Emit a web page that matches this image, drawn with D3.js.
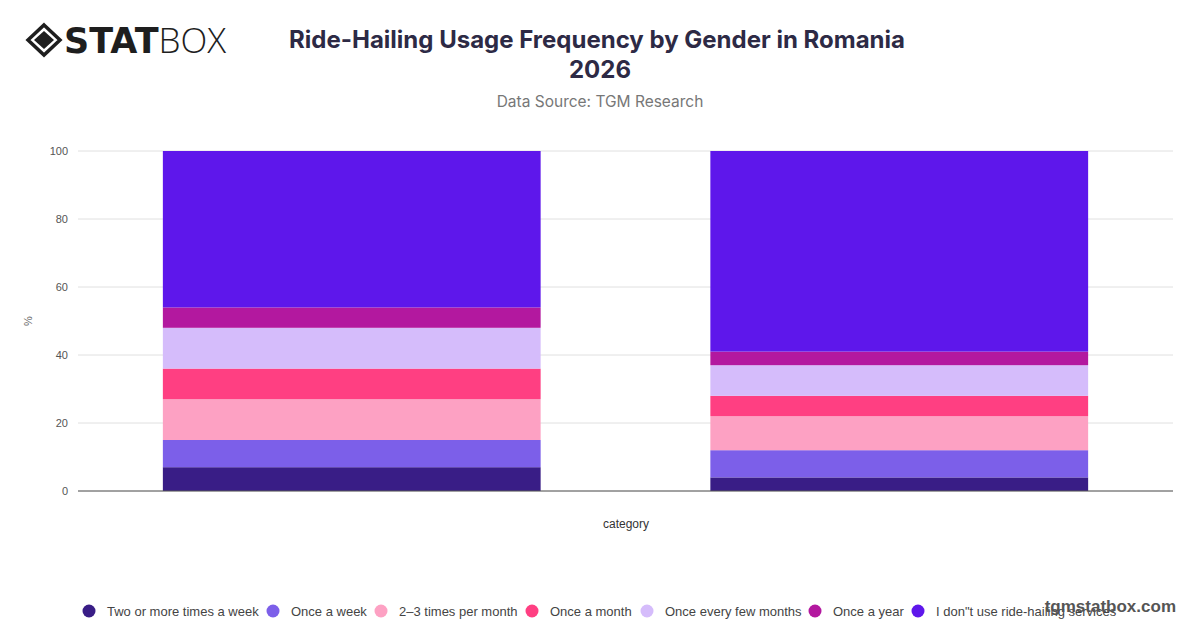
<!DOCTYPE html>
<html>
<head>
<meta charset="utf-8">
<script src="https://cdn.jsdelivr.net/npm/d3@7"></script>
<style>
  body { margin: 0; background: #fff; }
  svg { display: block; }
</style>
</head>
<body>
<svg width="1200" height="628"></svg>
<script>
// data
var categories = ["Male", "Female"];
var series = ["Two or more times a week", "Once a week", "2\u20133 times per month", "Once a month",
  "Once every few months", "Once a year", "I don\"t use ride-hailing services"];
var maleValues = [7, 8, 12, 9, 12, 6, 46];
var femaleValues = [4, 8, 10, 6, 9, 4, 59];
var colors = ["#391d86", "#7c5fe9", "#fda1c3", "#ff3f82", "#d5bcfb", "#b3189f", "#5e17eb"];
var yTicks = [0, 20, 40, 60, 80, 100];

var svg = d3.select("svg");
var width = 1200, height = 628;
var margin = {top: 151, right: 27, bottom: 137, left: 78};
var plotW = width - margin.left - margin.right,
    plotH = height - margin.top - margin.bottom;

var rows = categories.map(function(c, i) {
  var r = {category: c};
  var vals = i == 0 ? maleValues : femaleValues;
  series.forEach(function(s, j) { r[s] = vals[j]; });
  return r;
});
var stacked = d3.stack().keys(series)(rows);

var x = d3.scaleBand().domain(categories).range([margin.left, margin.left + plotW])
  .paddingInner(0.31).paddingOuter(0.155);
var y = d3.scaleLinear().domain([0, 100]).range([margin.top + plotH, margin.top]);
var color = d3.scaleOrdinal().domain(series).range(colors);

// gridlines
svg.append("g").selectAll("line").data(yTicks).enter().append("line")
  .attr("x1", margin.left).attr("x2", margin.left + plotW)
  .attr("y1", d => y(d)).attr("y2", d => y(d))
  .attr("stroke", "#e0e0e0").attr("stroke-width", 1);

// bars
svg.append("g").selectAll("g").data(stacked).enter().append("g")
  .attr("fill", d => color(d.key))
  .selectAll("rect").data(d => d).enter().append("rect")
  .attr("x", d => x(d.data.category))
  .attr("width", x.bandwidth())
  .attr("y", d => y(d[1]))
  .attr("height", d => y(d[0]) - y(d[1]));

// y axis labels
var yAxis = d3.axisLeft(y).tickValues(yTicks).tickSize(0).tickPadding(10);
var ga = svg.append("g").attr("transform", "translate(" + margin.left + ",0)").call(yAxis);
ga.select(".domain").remove();
ga.selectAll("text").attr("font-family", "Helvetica, Arial, sans-serif").attr("font-size", 11).attr("fill", "#555");

// x axis line
var xAxis = d3.axisBottom(x).tickSize(0).tickFormat("");
var gx = svg.append("g").attr("transform", "translate(0," + (margin.top + plotH) + ")").call(xAxis);
gx.select(".domain").attr("stroke", "#555").attr("stroke-width", 1.2).attr("d", "M" + margin.left + ",0H" + (margin.left + plotW));

svg.append("text").attr("x", 626).attr("y", 528).attr("text-anchor", "middle")
  .attr("font-family", "Helvetica, Arial, sans-serif").attr("font-size", 12).attr("fill", "#333")
  .text("category");

svg.append("text").attr("transform", "translate(32,321) rotate(-90)").attr("text-anchor", "middle")
  .attr("font-family", "Helvetica, Arial, sans-serif").attr("font-size", 11).attr("fill", "#666")
  .text("%");

// titles
svg.append("text").attr("x", 597).attr("y", 48).attr("text-anchor", "middle")
  .attr("font-family", "Inter, sans-serif").attr("font-weight", 700).attr("font-size", 24).attr("fill", "#2d2a45")
  .text("Ride-Hailing Usage Frequency by Gender in Romania");
svg.append("text").attr("x", 600).attr("y", 78).attr("text-anchor", "middle")
  .attr("font-family", "Inter, sans-serif").attr("font-weight", 700).attr("font-size", 24).attr("fill", "#2d2a45")
  .text("2026");
svg.append("text").attr("x", 600).attr("y", 107).attr("text-anchor", "middle")
  .attr("font-family", "Inter, sans-serif").attr("font-size", 15.5).attr("fill", "#777")
  .text("Data Source: TGM Research");

// logo
var logo = svg.append("g").attr("transform", "translate(44,40)");
logo.append("path").attr("d", "M0,-15L16,0L0,15L-16,0Z").attr("fill", "none").attr("stroke", "#1e1e1e").attr("stroke-width", 3.5);
logo.append("path").attr("d", "M0,-9L10,0L0,9L-10,0Z").attr("fill", "#1e1e1e");
svg.append("text").attr("x", 64).attr("y", 53)
  .attr("font-family", "'DejaVu Sans', sans-serif").attr("font-size", 35).attr("fill", "#1e1e1e")
  .html('<tspan font-weight="900">STAT</tspan><tspan font-family="\'Open Sans\', sans-serif" font-weight="300">BOX</tspan>');

// legend
var legendX = [89, 273, 381, 532, 647, 815, 918];
var lg = svg.append("g").selectAll("g").data(series).enter().append("g")
  .attr("transform", (d, i) => "translate(" + legendX[i] + ",611)");
lg.append("circle").attr("r", 6.5).attr("fill", d => color(d));
lg.append("text").attr("x", 18).attr("dy", "0.35em")
  .attr("font-family", "Helvetica, Arial, sans-serif").attr("font-size", 13).attr("fill", "#444")
  .text(d => d);

// watermark
svg.append("text").attr("x", 1176).attr("y", 612).attr("text-anchor", "end")
  .attr("font-family", "Helvetica, Arial, sans-serif").attr("font-weight", 700).attr("font-size", 17).attr("fill", "#555")
  .text("tgmstatbox.com");
</script>
</body>
</html>
